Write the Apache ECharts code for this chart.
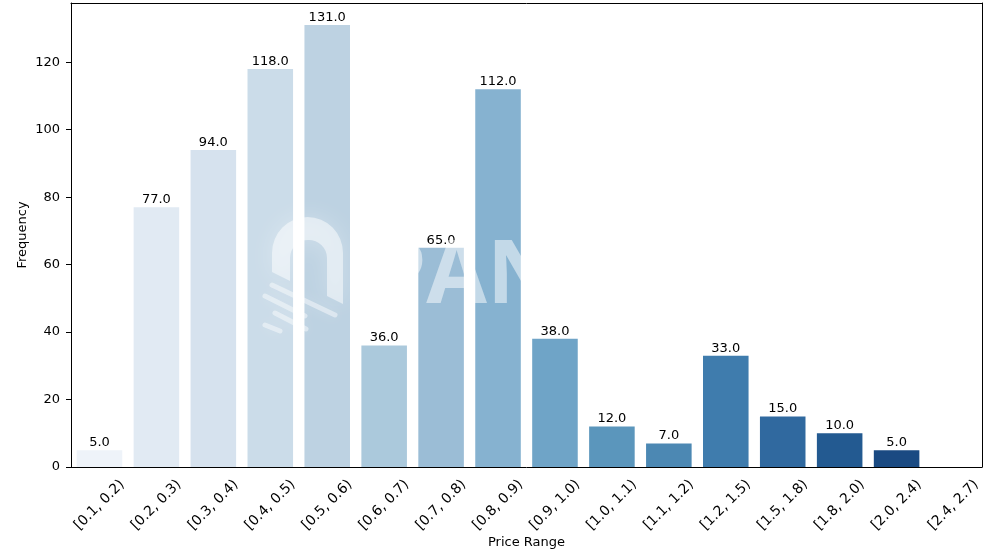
<!DOCTYPE html>
<html>
<head>
<meta charset="utf-8">
<style>
  html, body { margin: 0; padding: 0; background: #fff; }
  #container { width: 987px; height: 554px; }
</style>
<script src="https://cdn.jsdelivr.net/npm/echarts@6/dist/echarts.min.js"></script>
</head>
<body>
<div id="container"></div>
<script>
var categories = ['[0.1, 0.2)', '[0.2, 0.3)', '[0.3, 0.4)', '[0.4, 0.5)', '[0.5, 0.6)', '[0.6, 0.7)', '[0.7, 0.8)', '[0.8, 0.9)',
  '[0.9, 1.0)', '[1.0, 1.1)', '[1.1, 1.2)', '[1.2, 1.5)', '[1.5, 1.8)', '[1.8, 2.0)', '[2.0, 2.4)', '[2.4, 2.7)'];
var frequency = [5, 77, 94, 118, 131, 36, 65, 112, 38, 12, 7, 33, 15, 10, 5, null];
var yTicks = [0, 20, 40, 60, 80, 100, 120];
var yMax = 137.55;
var barColors = ['#eef3f9', '#e1eaf3', '#d6e2ee', '#cbdce9', '#bdd2e2', '#abc9dc', '#9bbdd6', '#86b2d0',
  '#6fa4c7', '#5b96bc', '#4c88b3', '#3f7cad', '#30699f', '#235a91', '#1a4a82', '#123a70'];

var font = 'DejaVu Sans';
var myChart = echarts.init(document.getElementById('container'), null, { renderer: 'canvas' });

// 水印 (white, semi transparent, sits over the bars)
echarts.graphic.registerShape('logoArch', echarts.graphic.extendPath(
  'M272 272 L272 253 A35.5 36 0 0 1 343 253 L343 304 L327 296 L327 258 A18.5 18 0 0 0 290 258 L290 281 Z'
));
var markStyle = { stroke: 'rgba(255,255,255,0.45)', lineWidth: 5, lineCap: 'round', fill: 'none', shadowBlur: 14, shadowColor: 'rgba(255,255,255,0.5)' };
var stripes = [[272, 285, 335, 315], [265, 296, 305, 316], [275, 313, 306, 329], [265, 325, 280, 331]];
var watermark = [
  {
    type: 'logoArch',
    z: 100,
    style: { fill: 'rgba(255,255,255,0.5)', shadowBlur: 24, shadowColor: 'rgba(255,255,255,0.6)' }
  },
  {
    type: 'text',
    z: 100,
    x: 371,
    y: 234,
    style: {
      text: 'PANews',
      font: 'bold 88px "Open Sans"',
      fill: 'rgba(255,255,255,0.5)',
      shadowBlur: 18,
      shadowColor: 'rgba(255,255,255,0.6)'
    }
  }
];
stripes.forEach(function (s) {
  watermark.push({
    type: 'line',
    z: 100,
    shape: { x1: s[0], y1: s[1], x2: s[2], y2: s[3] },
    style: markStyle
  });
});

var spine = { show: true, onZero: false, lineStyle: { color: '#000', width: 1 } };

var option = {
  animation: false,
  backgroundColor: '#fff',
  grid: { left: 71, right: 5, top: 3, bottom: 87, outerBoundsMode: 'none' },
  xAxis: [
    {
      type: 'category',
      z: 5,
      data: categories,
      name: 'Price Range',
      nameLocation: 'middle',
      nameMoveOverlap: false,
      nameGap: 69,
      nameTextStyle: { color: '#000', fontFamily: font, fontSize: 13 },
      axisLine: spine,
      axisTick: { alignWithLabel: true, length: 5, lineStyle: { color: '#000' } },
      axisLabel: {
        interval: 0,
        rotate: 45,
        align: 'center',
        verticalAlign: 'middle',
        margin: 38,
        color: '#000',
        fontFamily: font,
        fontSize: 14
      }
    },
    // top and right frame lines
    {
      type: 'category',
      position: 'top',
      data: categories,
      axisLine: spine,
      axisTick: { show: false },
      axisLabel: { show: false }
    }
  ],
  yAxis: [
    {
      type: 'value',
      z: 5,
      min: 0,
      max: yMax,
      name: 'Frequency',
      nameLocation: 'middle',
      nameMoveOverlap: false,
      nameGap: 42,
      nameTextStyle: { color: '#000', fontFamily: font, fontSize: 13 },
      splitLine: { show: false },
      axisLine: spine,
      axisTick: { show: true, length: 5, lineStyle: { color: '#000' }, customValues: yTicks },
      axisLabel: { color: '#000', fontFamily: font, fontSize: 13, margin: 11, customValues: yTicks }
    },
    {
      type: 'value',
      position: 'right',
      min: 0,
      max: yMax,
      splitLine: { show: false },
      axisLine: spine,
      axisTick: { show: false },
      axisLabel: { show: false }
    }
  ],
  series: [
    {
      type: 'bar',
      data: frequency,
      barCategoryGap: '20%',
      itemStyle: {
        color: function (params) {
          return barColors[params.dataIndex];
        }
      },
      label: {
        show: true,
        position: 'top',
        distance: 1,
        color: '#000',
        fontFamily: font,
        fontSize: 13,
        formatter: function (params) {
          return params.value == null ? '' : params.value.toFixed(1);
        }
      }
    }
  ],
  graphic: { elements: watermark }
};

myChart.setOption(option);
</script>
</body>
</html>
